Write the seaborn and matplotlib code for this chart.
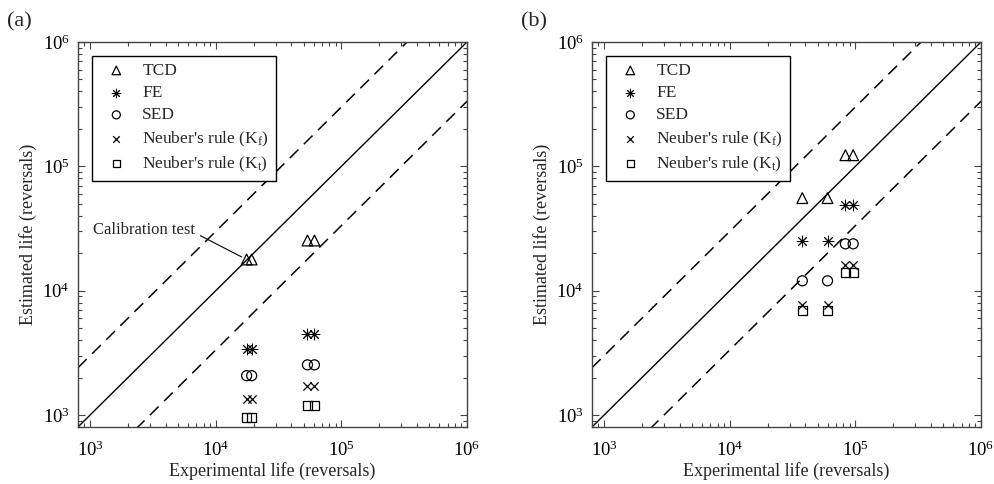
import numpy as np
import pandas as pd
import matplotlib
matplotlib.use("Agg")
import matplotlib.pyplot as plt
import seaborn as sns

# ---------------- data ----------------
methods = ["TCD", "FE", "SED", "Neuber's rule (K$_{\\mathrm{f}}$)", "Neuber's rule (K$_{\\mathrm{t}}$)"]

exp_a = [17600, 19300, 53700, 61000]
tcd_a = [17800, 17800, 25300, 25300]
fe_a = [3400, 3400, 4500, 4500]
sed_a = [2070, 2070, 2530, 2530]
kf_a = [1350, 1350, 1710, 1710]
kt_a = [950, 950, 1200, 1200]

exp_b = [37800, 60000, 83300, 96000]
tcd_b = [55500, 55500, 122800, 122800]
fe_b = [25300, 25300, 48400, 48400]
sed_b = [12000, 12000, 23800, 23800]
kf_b = [7700, 7700, 16100, 16100]
kt_b = [6900, 6900, 13900, 13900]

ref_life = [800, 1e6]
scatter_factor = 3.0

panel_labels = ["(a)", "(b)"]
xlabel = "Experimental life (reversals)"
ylabel = "Estimated life (reversals)"

# ---------------- style ----------------
sns.set_theme(style="ticks")
plt.rcParams["font.family"] = ["Liberation Serif", "DejaVu Serif"]
plt.rcParams["mathtext.fontset"] = "custom"
plt.rcParams["mathtext.rm"] = "Liberation Serif"
plt.rcParams["mathtext.it"] = "Liberation Serif:italic"
plt.rcParams["mathtext.bf"] = "Liberation Serif:bold"

markers = ["^", (8, 2, 0), "o", "x", "s"]
sizes = [60, 60, 52, 35, 40]
widths = [0.9, 0.7, 0.9, 0.9, 0.9]
filled = [True, False, True, False, True]

fig = plt.figure(figsize=(9.95, 4.84), dpi=100)
ax_a = fig.add_axes([78 / 995, 1 - 427 / 484, 389 / 995, 385 / 484])
ax_b = fig.add_axes([592 / 995, 1 - 427 / 484, 389 / 995, 385 / 484])

datasets = [
    (ax_a, exp_a, [tcd_a, fe_a, sed_a, kf_a, kt_a]),
    (ax_b, exp_b, [tcd_b, fe_b, sed_b, kf_b, kt_b]),
]

spine_col = "#444444"
for i, (ax, ex, series) in enumerate(datasets):
    ax.set_xscale("log")
    ax.set_yscale("log")
    # reference lines
    rx = np.array(ref_life)
    sns.lineplot(x=rx, y=rx, ax=ax, color="black", lw=1.0)
    sns.lineplot(x=rx, y=rx * scatter_factor, ax=ax, color="black", lw=1.1)
    sns.lineplot(x=rx, y=rx / scatter_factor, ax=ax, color="black", lw=1.1)
    lines = ax.get_lines()
    lines[1].set_dashes((8, 5))
    lines[2].set_dashes((8, 5))
    for j, (lab, ys) in enumerate(zip(methods, series)):
        df = pd.DataFrame({"x": ex, "y": ys})
        kw = dict(marker=markers[j], s=sizes[j], linewidth=widths[j], label=lab, ax=ax, color="black")
        if filled[j]:
            kw.update(facecolor="none", edgecolor="black")
        sns.scatterplot(data=df, x="x", y="y", **kw)
    ax.set_xlim(800, 1e6)
    ax.set_ylim(800, 1e6)
    ax.set_xlabel(xlabel, fontsize=13, labelpad=1)
    ax.set_ylabel(ylabel, fontsize=13, labelpad=4)
    ax.tick_params(which="both", direction="in", top=True, right=True, colors=spine_col,
                   labelcolor="black", width=0.8)
    ax.tick_params(which="major", length=5, labelsize=13.5)
    ax.tick_params(axis="x", which="major", pad=10)
    ax.tick_params(axis="y", which="major", pad=6)
    ax.tick_params(which="minor", length=3)
    for s in ax.spines.values():
        s.set_color(spine_col)
        s.set_linewidth(1.0)
    handles, labels = ax.get_legend_handles_labels()
    leg = ax.legend(handles, labels, loc="upper left", bbox_to_anchor=(0.036, 0.964),
                    borderaxespad=0, fontsize=12.5, frameon=True, fancybox=False,
                    edgecolor="black", framealpha=1, markerscale=0.8,
                    handlelength=2.0, handletextpad=0.5, labelspacing=0.35, borderpad=0.4)
    leg.get_frame().set_linewidth(1.0)
    fig.text(ax.get_position().x0 - 71 / 995, 1 - 22 / 484, panel_labels[i],
             fontsize=16, ha="left", va="center")

ax_a.annotate("Calibration test", xy=(exp_a[0], tcd_a[0]), xytext=(-52, 30),
              textcoords="offset pixels", ha="right", va="center", fontsize=12,
              arrowprops=dict(arrowstyle="-", lw=0.8, color="black", shrinkA=2, shrinkB=4,
                              relpos=(1.0, 0.3)))

fig.savefig("out.png", dpi=100)
